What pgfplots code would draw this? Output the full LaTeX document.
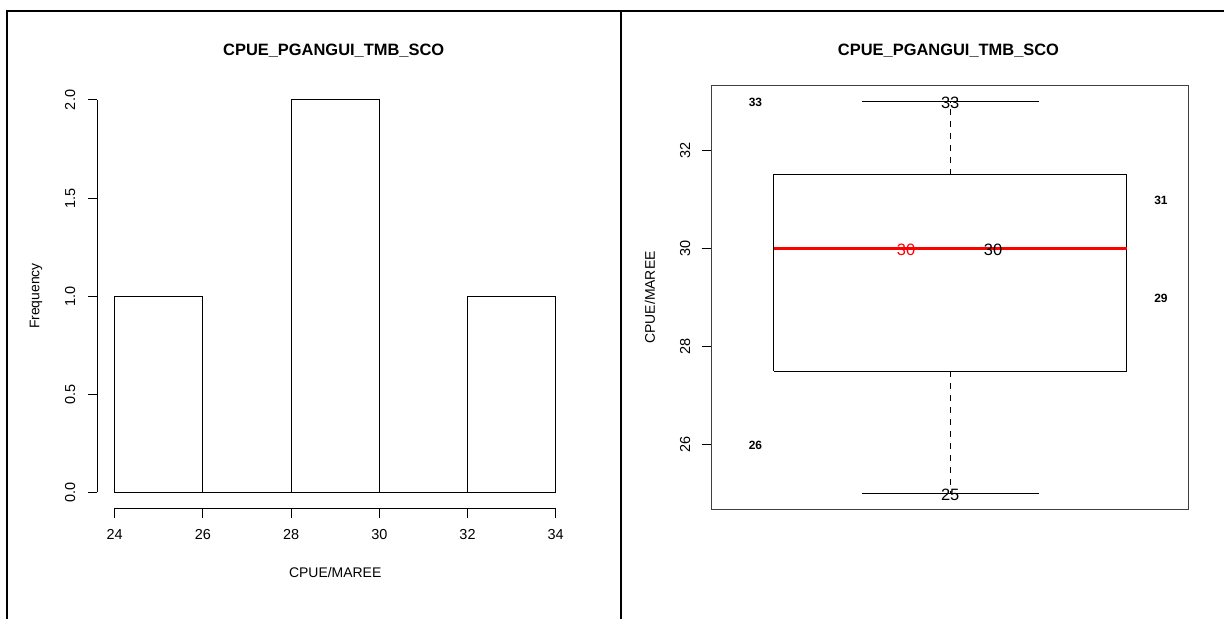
\documentclass[border=0pt]{standalone}
\usepackage{fontspec}
\setmainfont{Liberation Sans}
\usepackage{pgfplots}
\pgfplotsset{compat=1.18}
\begin{document}
\begin{tikzpicture}[x=1bp,y=1bp]
\path[use as bounding box] (0,0) rectangle (1224,619);
% panel frames
\draw[line width=2.5bp] (7,0) -- (7,608) -- (1224,608);
\draw[line width=2.5bp] (621,0) -- (621,608);

% ---- histogram ----
\begin{axis}[
  at={(114.7bp,126.7bp)}, anchor=south west,
  scale only axis, width=441bp, height=392.3bp,
  xmin=24, xmax=34, ymin=0, ymax=2,
  axis lines=left,
  axis line style={-, line width=1bp, black},
  axis x line shift=16bp, axis y line shift=17.4bp,
  xtick={24,26,...,34},
  ytick={0,0.5,...,2}, yticklabels={0.0,0.5,1.0,1.5,2.0},
  tick align=outside, major tick length=9.5bp,
  tick style={black, line width=1bp},
  ticklabel style={font=\fontsize{14.5}{16}\selectfont},
  xticklabel shift=8bp, yticklabel shift=9bp,
  yticklabel style={rotate=90, anchor=south},
  /pgf/number format/assume math mode=true,
  clip=false,
]
\addplot[ybar interval, draw=black, fill=none, line width=1bp]
  coordinates {(24,1) (26,0) (28,2) (30,0) (32,1) (34,1)};
\end{axis}

% ---- boxplot ----
\begin{axis}[
  at={(711.7bp,109.7bp)}, anchor=south west,
  scale only axis, width=477bp, height=423.6bp,
  xmin=0.46, xmax=1.54, ymin=24.68, ymax=33.32,
  axis line style={black!75, line width=1.1bp},
  xtick=\empty, ytick={26,28,30,32}, ytick pos=left,
  tick align=outside, major tick length=10bp,
  tick style={black, line width=1bp},
  ticklabel style={font=\fontsize{14.5}{16}\selectfont},
  yticklabel shift=8bp,
  yticklabel style={rotate=90, anchor=south},
  /pgf/number format/assume math mode=true,
  clip=false,
]
% box, whiskers and staples
\addplot[black, line width=1bp] coordinates {(0.6,27.5) (1.4,27.5) (1.4,31.5) (0.6,31.5) (0.6,27.5)};
\addplot[black, line width=1bp, dash pattern=on 6bp off 6bp] coordinates {(1,31.5) (1,33)};
\addplot[black, line width=1bp, dash pattern=on 6bp off 6bp] coordinates {(1,27.5) (1,25)};
\addplot[black, line width=1bp] coordinates {(0.8,33) (1.2,33)};
\addplot[black, line width=1bp] coordinates {(0.8,25) (1.2,25)};
% median
\addplot[red, line width=3.5bp] coordinates {(0.6,30) (1.4,30)};
% value labels
\begin{scope}[every node/.style={font=\fontsize{16.5}{18}\selectfont, inner sep=0pt, yshift=-1.5bp}]
\node at (axis cs:1,33) {33};
\node at (axis cs:1,25) {25};
\node at (axis cs:1.097,30) {30};
\node[text=red] at (axis cs:0.9,30) {30};
\end{scope}
\begin{scope}[every node/.style={font=\bfseries\fontsize{12}{14}\selectfont, inner sep=0pt, yshift=-1bp}]
\node at (axis cs:0.559,33) {33};
\node at (axis cs:1.477,31) {31};
\node at (axis cs:1.477,29) {29};
\node at (axis cs:0.559,26) {26};
\end{scope}
\end{axis}

% titles and axis labels
\node[font=\bfseries\fontsize{16.5}{18}\selectfont] at (333.7,568) {CPUE\_PGANGUI\_TMB\_SCO};
\node[font=\bfseries\fontsize{16.5}{18}\selectfont] at (948.5,568) {CPUE\_PGANGUI\_TMB\_SCO};
\node[font=\fontsize{14}{16}\selectfont] at (335.2,46) {CPUE/MAREE};
\node[font=\fontsize{14}{16}\selectfont, rotate=90] at (36,323) {Frequency};
\node[font=\fontsize{14}{16}\selectfont, rotate=90] at (650,321.5) {CPUE/MAREE};
\end{tikzpicture}
\end{document}
